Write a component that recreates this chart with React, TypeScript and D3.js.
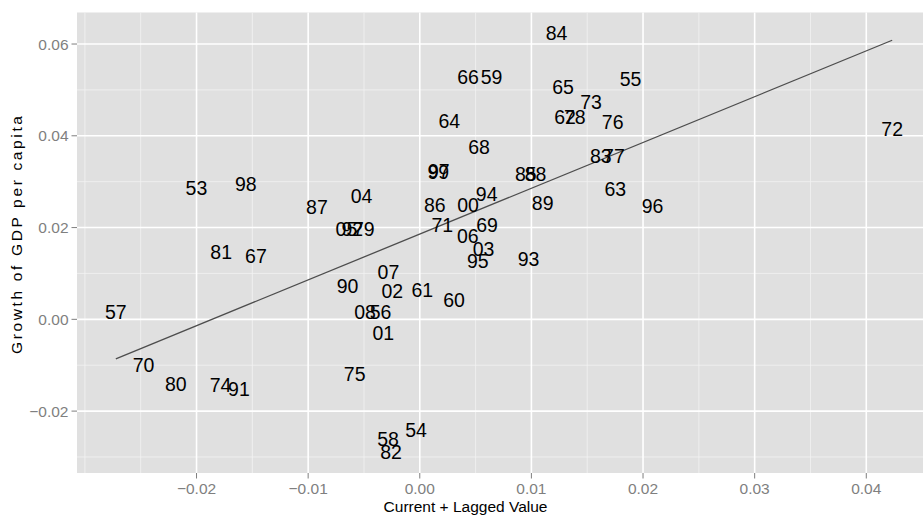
import * as d3 from 'd3';
import React, { useRef, useEffect } from 'react';

// year labels with (current + lagged value, growth of GDP per capita)
const years = ['84', '66', '59', '65', '55', '73', '62', '78', '76', '72',
  '64', '68', '97', '99', '85', '88', '83', '77', '63', '96',
  '89', '94', '86', '00', '71', '69', '06', '03', '95', '93',
  '53', '98', '87', '04', '05', '92', '79', '81', '67', '57',
  '70', '80', '74', '91', '90', '75', '08', '56', '01', '07',
  '02', '61', '60', '54', '58', '82'];
const laggedValue = [0.01225, 0.00433, 0.00643, 0.01284, 0.01888, 0.01535, 0.01302, 0.01389, 0.01728, 0.04232,
  0.00264, 0.00531, 0.00170, 0.00166, 0.00950, 0.01037, 0.01622, 0.01739, 0.01752, 0.02086,
  0.01101, 0.00599, 0.00134, 0.00432, 0.00202, 0.00602, 0.00430, 0.00572, 0.00520, 0.00975,
  -0.02001, -0.01558, -0.00921, -0.00522, -0.00657, -0.00605, -0.00502, -0.01779, -0.01468, -0.02723,
  -0.02475, -0.02185, -0.01785, -0.01620, -0.00647, -0.00583, -0.00490, -0.00352, -0.00327, -0.00281,
  -0.00246, 0.00022, 0.00307, -0.00034, -0.00284, -0.00258];
const gdpGrowth = [0.06231, 0.05277, 0.05277, 0.05074, 0.05240, 0.04732, 0.04416, 0.04416, 0.04296, 0.04150,
  0.04333, 0.03752, 0.03229, 0.03218, 0.03170, 0.03170, 0.03571, 0.03571, 0.02843, 0.02481,
  0.02536, 0.02734, 0.02503, 0.02503, 0.02046, 0.02046, 0.01813, 0.01536, 0.01268, 0.01318,
  0.02852, 0.02946, 0.02444, 0.02699, 0.01980, 0.01980, 0.01980, 0.01471, 0.01377, 0.00157,
  -0.01004, -0.01405, -0.01427, -0.01514, 0.00717, -0.01187, 0.00157, 0.00157, -0.00301, 0.01028,
  0.00608, 0.00643, 0.00412, -0.02420, -0.02603, -0.02893];

const xTicks = [-0.02, -0.01, 0.00, 0.01, 0.02, 0.03, 0.04];
const xMinor = [-0.03, -0.025, -0.015, -0.005, 0.005, 0.015, 0.025, 0.035];
const yTicks = [-0.02, 0.00, 0.02, 0.04, 0.06];
const yMinor = [-0.03, -0.01, 0.01, 0.03, 0.05];

function App() {
  const ref = useRef<SVGSVGElement>(null);

  useEffect(() => {
    const panel = { left: 77, right: 931, top: 12.5, bottom: 473 };

    const data = years.map((d, i) => ({ label: d, x: laggedValue[i], y: gdpGrowth[i] }));

    const svg = d3.select(ref.current);
    svg.selectAll('*').remove();

    // ggplot style 5% expansion
    const ex = d3.extent(data, d => d.x) as [number, number];
    const ey = d3.extent(data, d => d.y) as [number, number];
    const px = (ex[1] - ex[0]) * 0.05;
    const py = (ey[1] - ey[0]) * 0.05;
    const x = d3.scaleLinear().domain([ex[0] - px, ex[1] + px]).range([panel.left, panel.right]);
    const y = d3.scaleLinear().domain([ey[0] - py, ey[1] + py]).range([panel.bottom, panel.top]);

    svg.append('rect')
      .attr('x', panel.left).attr('y', panel.top)
      .attr('width', panel.right - panel.left).attr('height', panel.bottom - panel.top)
      .attr('fill', '#e0e0e0');

    const grid = svg.append('g');
    grid.selectAll('.xmin').data(xMinor).enter().append('line')
      .attr('x1', d => x(d)).attr('x2', d => x(d))
      .attr('y1', panel.top).attr('y2', panel.bottom)
      .attr('stroke', '#f2f2f2').attr('stroke-width', 0.8);
    grid.selectAll('.ymin').data(yMinor).enter().append('line')
      .attr('y1', d => y(d)).attr('y2', d => y(d))
      .attr('x1', panel.left).attr('x2', panel.right)
      .attr('stroke', '#f2f2f2').attr('stroke-width', 0.8);
    grid.selectAll('.xmaj').data(xTicks).enter().append('line')
      .attr('x1', d => x(d)).attr('x2', d => x(d))
      .attr('y1', panel.top).attr('y2', panel.bottom)
      .attr('stroke', '#ffffff').attr('stroke-width', 1.6);
    grid.selectAll('.ymaj').data(yTicks).enter().append('line')
      .attr('y1', d => y(d)).attr('y2', d => y(d))
      .attr('x1', panel.left).attr('x2', panel.right)
      .attr('stroke', '#ffffff').attr('stroke-width', 1.6);

    // least squares fit, drawn over the data range
    const mx = d3.mean(data, d => d.x) as number;
    const my = d3.mean(data, d => d.y) as number;
    const slope = d3.sum(data, d => (d.x - mx) * (d.y - my)) / d3.sum(data, d => (d.x - mx) ** 2);
    const intercept = my - slope * mx;
    const line = d3.line<number>().x(d => x(d)).y(d => y(intercept + slope * d));
    svg.append('path')
      .attr('d', line(ex))
      .attr('fill', 'none')
      .attr('stroke', '#4d4d4d')
      .attr('stroke-width', 1.3);

    svg.append('g')
      .selectAll('text')
      .data(data)
      .enter().append('text')
      .attr('x', d => x(d.x))
      .attr('y', d => y(d.y))
      .attr('dy', '0.36em')
      .attr('text-anchor', 'middle')
      .attr('font-size', 19.5)
      .attr('fill', '#000')
      .text(d => d.label);

    // axes
    const fmt = d3.format('.2f');
    const minus = (v: number) => fmt(v).replace('-', '\u2212');
    const ax = svg.append('g');
    ax.selectAll('.xt').data(xTicks).enter().append('line')
      .attr('x1', d => x(d)).attr('x2', d => x(d))
      .attr('y1', panel.bottom).attr('y2', panel.bottom + 5.5)
      .attr('stroke', '#7f7f7f').attr('stroke-width', 1);
    ax.selectAll('.xl').data(xTicks).enter().append('text')
      .attr('x', d => x(d)).attr('y', 493.5)
      .attr('text-anchor', 'middle')
      .attr('font-size', 15.5).attr('fill', '#7f7f7f')
      .text(d => minus(d));
    ax.selectAll('.yt').data(yTicks).enter().append('line')
      .attr('y1', d => y(d)).attr('y2', d => y(d))
      .attr('x1', panel.left - 5.5).attr('x2', panel.left)
      .attr('stroke', '#7f7f7f').attr('stroke-width', 1);
    ax.selectAll('.yl').data(yTicks).enter().append('text')
      .attr('x', 68.5).attr('y', d => y(d))
      .attr('dy', '0.36em')
      .attr('text-anchor', 'end')
      .attr('font-size', 15.5).attr('fill', '#7f7f7f')
      .text(d => minus(d));

    svg.append('text')
      .attr('x', 465.5).attr('y', 512)
      .attr('text-anchor', 'middle')
      .attr('font-size', 15.5).attr('fill', '#000')
      .text('Current + Lagged Value');
    svg.append('text')
      .attr('transform', 'translate(22,235) rotate(-90)')
      .attr('text-anchor', 'middle')
      .attr('font-size', 15.5).attr('fill', '#000')
      .attr('textLength', 238)
      .attr('lengthAdjust', 'spacing')
      .text('Growth of GDP per capita');
  }, []);

  return (
    <svg ref={ref} width={923} height={516}
      style={{ position: 'absolute', left: 0, top: 0, fontFamily: '"Liberation Sans", Arial, Helvetica, sans-serif' }} />
  );
}

export default App;
